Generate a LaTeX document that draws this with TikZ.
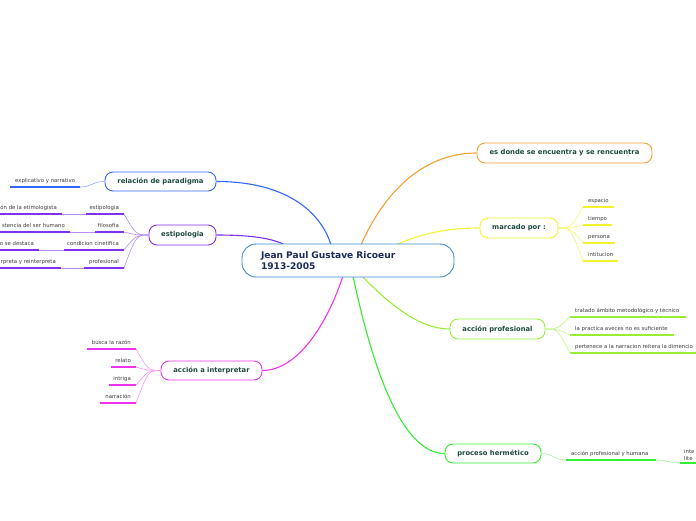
\documentclass[tikz,border=0pt]{standalone}
\usepackage{fontspec}
\setmainfont{DejaVu Sans}
\definecolor{cblue}{HTML}{3366FF}
\definecolor{cpurple}{HTML}{8030F0}
\definecolor{cmag}{HTML}{EE33EE}
\definecolor{corange}{HTML}{F5A030}
\definecolor{cyellow}{HTML}{F2F230}
\definecolor{clime}{HTML}{99EE33}
\definecolor{cgreen}{HTML}{33EE33}
\definecolor{ccenter}{HTML}{3A8AD0}
\definecolor{ctext}{HTML}{3A3A3A}
\definecolor{ntext}{HTML}{1E4A40}
\definecolor{mtext}{HTML}{1C2B5A}
\tikzset{
  topic/.style={draw, line width=0.9pt, fill=white, rounded corners=8pt, inner sep=0pt,
    text=ntext, font=\fontsize{6.8}{8}\selectfont\bfseries},
  childtext/.style={text=ctext, font=\fontsize{5.35}{6.5}\selectfont, inner sep=0pt},
  branch/.style={line width=1.1pt},
  twig/.style={line width=0.6pt},
  uline/.style={line width=1.5pt}
}
% right-side child: text left aligned
\newcommand{\rkid}[6]{%
  \coordinate (#1-a) at (#3,#5); \coordinate (#1-b) at (#4,#5);
  \draw[uline,#2] (#1-a) -- (#1-b);
  \node[childtext, anchor=base west] (#1) at (#3+5,#5-4.5) {#6};}
% left-side child: text right aligned
\newcommand{\lkid}[6]{%
  \coordinate (#1-a) at (#4,#5); \coordinate (#1-b) at (#3,#5);
  \draw[uline,#2] (#1-a) -- (#1-b);
  \node[childtext, anchor=base east] (#1) at (#4-5,#5-4.5) {#6};}
\begin{document}
\begin{tikzpicture}[x=1pt,y=-1pt]
\useasboundingbox (0,0) rectangle (696,520);
\clip (0,0) rectangle (696,520);

\coordinate (pB) at (331,245);
\coordinate (pP) at (285,245);
\coordinate (pO) at (361,245);
\coordinate (pY) at (396,245);
\coordinate (pM) at (343,276);
\coordinate (pG) at (353,276);
\coordinate (pL) at (362,276);

\node[topic, draw=cblue, minimum width=111pt, minimum height=19pt] (rel) at (160.5,181.5) {relación de paradigma};
\node[topic, draw=cpurple, minimum width=67pt, minimum height=20pt] (est) at (182.5,235) {estipologia};
\node[topic, draw=cmag, minimum width=101pt, minimum height=19pt] (acc) at (211.5,370.5) {acción a interpretar};
\node[topic, draw=corange, minimum width=175pt, minimum height=20pt] (don) at (564.5,153) {es donde se encuentra y se rencuentra};
\node[topic, draw=cyellow, minimum width=78pt, minimum height=20pt] (mar) at (519,228) {marcado por :};
\node[topic, draw=clime, minimum width=95pt, minimum height=20pt] (pro) at (497.5,329) {acción profesional};
\node[topic, draw=cgreen, minimum width=96pt, minimum height=19pt] (her) at (493,453.5) {proceso hermético};

\draw[branch, cblue] (rel.east) .. controls (290,181.5) and (322,215) .. (pB);
\draw[branch, cpurple] (est.east) .. controls (250,235) and (272,238) .. (pP);
\draw[branch, corange] (don.west) .. controls (425,153) and (385,190) .. (pO);
\draw[branch, cyellow] (mar.west) .. controls (445,228) and (420,234) .. (pY);
\draw[branch, cmag] (acc.east) .. controls (295,370.5) and (325,330) .. (pM);
\draw[branch, cgreen] (her.west) .. controls (405,453.5) and (375,380) .. (pG);
\draw[branch, clime] (pro.west) .. controls (420,329) and (390,305) .. (pL);

% central node
\node[draw=ccenter, line width=0.9pt, fill=white, rounded corners=14pt, minimum width=212pt, minimum height=33pt,
  inner sep=0pt, text width=174pt, align=left, text=mtext, font=\fontsize{9.1}{11}\selectfont\bfseries]
  (main) at (348,260.5) {Jean Paul Gustave Ricoeur\\1913-2005};

% relación de paradigma child
\rkid{exp}{cblue}{10}{80}{187}{explicativo y narrativo}
\draw[twig, cblue!55] (rel.west) .. controls (92,181.5) and (92,187) .. (exp-b);

% estipologia children
\lkid{e1}{cpurple}{86}{124}{214}{estipologia}
\lkid{e2}{cpurple}{95}{124}{232}{filosofia}
\lkid{e3}{cpurple}{64}{124}{250}{condicion cinetifica}
\lkid{e4}{cpurple}{84}{124}{268}{profesional}
\foreach \k in {e1,e2,e3,e4}{
  \draw[twig, cpurple!55] (est.west) .. controls (137,235) and (136,235) .. (\k-a);
}
\lkid{f1}{cpurple}{-5}{62}{214}{ón de la etimologista}
\lkid{f2}{cpurple}{-5}{70}{232}{stencia del ser humano}
\lkid{f3}{cpurple}{-5}{39}{250}{o se destaca}
\lkid{f4}{cpurple}{-5}{61}{268}{rpreta y reinterpreta}
\draw[twig, cpurple!55] (f1-a) -- (e1-b);
\draw[twig, cpurple!55] (f2-a) -- (e2-b);
\draw[twig, cpurple!55] (f3-a) -- (e3-b);
\draw[twig, cpurple!55] (f4-a) -- (e4-b);

% acción a interpretar children
\lkid{a1}{cmag}{87}{136}{349}{busca la razón}
\lkid{a2}{cmag}{111}{136}{367}{relato}
\lkid{a3}{cmag}{109}{136}{385}{intriga}
\lkid{a4}{cmag}{100}{136}{403}{narración}
\foreach \k in {a1,a2,a3,a4}{
  \draw[twig, cmag!50] (acc.west) .. controls (149,370.5) and (148,370.5) .. (\k-a);
}

% marcado por children
\rkid{m1}{cyellow}{583}{614}{207}{espacio}
\rkid{m2}{cyellow}{583}{612}{225}{tiempo}
\rkid{m3}{cyellow}{583}{615}{243}{persona}
\rkid{m4}{cyellow}{583}{618}{261}{intitucion}
\foreach \k in {m1,m2,m3,m4}{
  \draw[twig, cyellow!70] (mar.east) .. controls (570,228) and (571,228) .. (\k-a);
}

% acción profesional children
\rkid{p1}{clime}{570}{686}{317}{tratado ámbito metodológico y técnico}
\rkid{p2}{clime}{570}{674}{335}{la practica aveces no es suficiente}
\rkid{p3}{clime}{570}{700}{353}{pertenece a la narracion reitera la dimencio}
\foreach \k in {p1,p2,p3}{
  \draw[twig, clime!60] (pro.east) .. controls (558,329) and (557,329) .. (\k-a);
}

% proceso hermético children
\rkid{h1}{cgreen}{566}{656}{460}{acción profesional y humana}
\draw[twig, cgreen!50] (her.east) .. controls (554,453.5) and (553,460) .. (h1-a);
\coordinate (h2-a) at (680,463); \coordinate (h2-b) at (700,463);
\draw[uline, cgreen] (h2-a) -- (h2-b);
\node[childtext, anchor=south west, align=left, font=\fontsize{5.35}{6.5}\selectfont] (h2) at (684,460.5) {inte\\lite};
\draw[twig, cgreen!50] (h1-b) .. controls (668,460) and (668,463) .. (h2-a);
\end{tikzpicture}
\end{document}
